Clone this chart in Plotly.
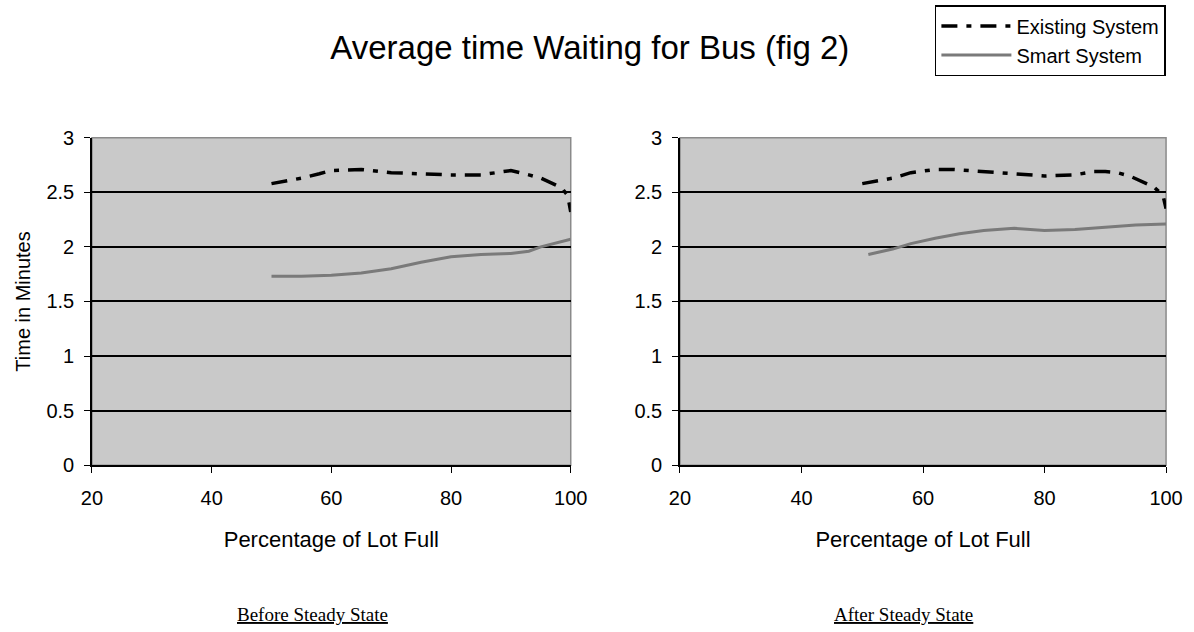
import plotly.graph_objects as go

# Before steady state
before_exist_x = [50, 52, 55, 58, 60, 65, 70, 75, 80, 85, 88, 90, 93, 95, 97, 98.5, 99.5, 100]
before_exist_y = [2.58, 2.60, 2.63, 2.67, 2.70, 2.71, 2.68, 2.67, 2.66, 2.66, 2.68, 2.70, 2.66, 2.63, 2.58, 2.54, 2.47, 2.32]
before_smart_x = [50, 55, 60, 65, 70, 75, 80, 85, 90, 93, 95, 98, 100]
before_smart_y = [1.73, 1.73, 1.74, 1.76, 1.80, 1.86, 1.91, 1.93, 1.94, 1.96, 2.00, 2.04, 2.07]

# After steady state
after_exist_x = [50, 52, 55, 58, 62, 65, 70, 75, 80, 85, 88, 90, 92, 94, 96, 98, 99.5, 100]
after_exist_y = [2.58, 2.60, 2.63, 2.68, 2.71, 2.71, 2.69, 2.67, 2.65, 2.66, 2.69, 2.69, 2.68, 2.65, 2.60, 2.55, 2.47, 2.35]
after_smart_x = [51, 55, 58, 62, 66, 70, 75, 80, 85, 90, 95, 100]
after_smart_y = [1.93, 1.98, 2.03, 2.08, 2.12, 2.15, 2.17, 2.15, 2.16, 2.18, 2.20, 2.21]

y_ticks = [0, 0.5, 1, 1.5, 2, 2.5, 3]
x_ticks = [20, 40, 60, 80, 100]

title = "Average time Waiting for Bus (fig 2)"
subtitles = ["Before Steady State", "After Steady State"]

exist_style = dict(color="black", width=3.5, dash="16px,9px,5px,9px")
smart_style = dict(color="#7a7a7a", width=3)

fig = go.Figure()
fig.add_trace(go.Scatter(x=before_exist_x, y=before_exist_y, mode="lines", line=exist_style,
                         name="Existing System", xaxis="x", yaxis="y"))
fig.add_trace(go.Scatter(x=before_smart_x, y=before_smart_y, mode="lines", line=smart_style,
                         name="Smart System", xaxis="x", yaxis="y"))
fig.add_trace(go.Scatter(x=after_exist_x, y=after_exist_y, mode="lines", line=exist_style,
                         name="Existing System", xaxis="x2", yaxis="y2", showlegend=False))
fig.add_trace(go.Scatter(x=after_smart_x, y=after_smart_y, mode="lines", line=smart_style,
                         name="Smart System", xaxis="x2", yaxis="y2", showlegend=False))

font_main = "Liberation Sans, Arial, sans-serif"
xa = dict(range=[20, 100], tickvals=x_ticks, showgrid=False, zeroline=False, automargin=False,
          showline=True, linecolor="black", linewidth=1.5, ticks="outside", ticklen=6,
          tickcolor="black", ticklabelstandoff=8,
          tickfont=dict(size=20, color="black", family=font_main),
          title=dict(text="Percentage of Lot Full", font=dict(size=22, color="black", family=font_main), standoff=24))
ya = dict(range=[0, 3], tickvals=y_ticks, showgrid=True, gridcolor="black", gridwidth=2,
          zeroline=False, showline=True, linecolor="black", linewidth=1.5, ticks="outside",
          automargin=False, ticklen=6, tickcolor="black", ticklabelstandoff=6,
          tickfont=dict(size=20, color="black", family=font_main))

y_dom = [0.264, 0.782]
fig.update_layout(
    width=1194, height=632, margin=dict(l=0, r=0, t=0, b=0),
    paper_bgcolor="white", plot_bgcolor="#c9c9c9",
    title=dict(text=title, x=0.494, xanchor="center", y=0.925, yanchor="middle",
               font=dict(size=33, color="black", family=font_main)),
    xaxis=dict(xa, domain=[0.077, 0.478], anchor="y"),
    yaxis=dict(ya, domain=y_dom, anchor="x",
               title=dict(text="Time in Minutes", font=dict(size=20, color="black", family=font_main), standoff=10)),
    xaxis2=dict(xa, domain=[0.5695, 0.9766], anchor="y2"),
    yaxis2=dict(ya, domain=y_dom, anchor="x2"),
    legend=dict(x=0.783, y=0.992, xanchor="left", yanchor="top", bgcolor="white",
                bordercolor="black", borderwidth=1.5, itemwidth=70,
                font=dict(size=20, color="black", family=font_main), tracegroupgap=4),
    showlegend=True,
)

# plot-area frame (gray)
for xr, yr in [("x", "y"), ("x2", "y2")]:
    fig.add_shape(type="rect", xref=f"{xr} domain", yref=f"{yr} domain", x0=0, x1=1, y0=0, y1=1,
                  line=dict(color="#8a8a8a", width=1.5), layer="below")

for txt, xr in zip(subtitles, ["x", "x2"]):
    fig.add_annotation(text=f"<u>{txt}</u>", xref=f"{xr} domain", yref="paper", x=0.46, y=0.027,
                       showarrow=False, yanchor="middle",
                       font=dict(size=19, color="black", family="Liberation Serif, Times New Roman, serif"))

fig.write_html("out.html")
